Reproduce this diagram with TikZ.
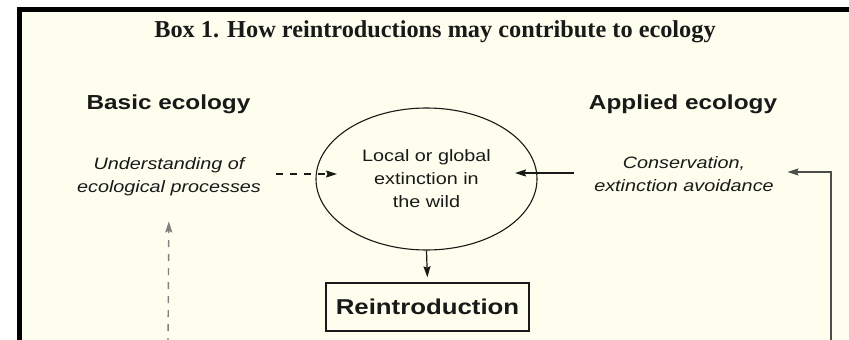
\documentclass[tikz,border=0pt]{standalone}
\usepackage{fontspec}
\setmainfont{Liberation Serif}
\newfontfamily\helv[FakeStretch=1.2]{Liberation Sans}
\usetikzlibrary{shapes.geometric,arrows.meta}

\definecolor{crema}{RGB}{254,254,238}
\definecolor{tinta}{RGB}{25,25,25}

\tikzset{
  flecha/.style={line width=1.2pt, draw=tinta, -{Stealth[length=11pt,width=7pt,inset=1.5pt]}},
  rayas/.style={dash pattern=on 7pt off 7pt},
  titulo/.style={font=\bfseries\fontsize{24.3}{28}\selectfont, text=tinta},
  encab/.style={font=\helv\bfseries\fontsize{20.3}{24}\selectfont, text=tinta},
  cursiva/.style={font=\helv\itshape\fontsize{16.5}{23}\selectfont, align=center, inner sep=0pt, text=tinta},
  elipse/.style={ellipse, draw=tinta, line width=1.1pt, minimum width=221pt, minimum height=142pt,
    inner sep=0pt, align=center, font=\helv\fontsize{16.5}{23}\selectfont, text=tinta},
  caja/.style={draw=tinta, line width=1.4pt, minimum width=203pt, minimum height=48pt,
    inner sep=0pt, font=\helv\bfseries\fontsize{21.5}{24}\selectfont, text=tinta}
}

\begin{document}
\begin{tikzpicture}[x=1pt,y=-1pt]
        % Marco y fondo
        \useasboundingbox (0,0) rectangle (849,340);
        \fill[white] (0,0) rectangle (849,340);
        \fill[crema] (19.5,9) rectangle (849,340);
        \draw[line width=5pt] (19.5,345) |- (855,9);

        % Título
        \node[titulo, anchor=base] (tit) at (435,37) {Box 1. How reintroductions may contribute to ecology};

        % Encabezados
        \node[encab, anchor=base] (basica) at (168.5,109) {Basic ecology};
        \node[encab, anchor=base] (aplicada) at (683,109) {Applied ecology};

        % Textos en cursiva
        \node[cursiva] (entend) at (169,177) {Understanding of\\ecological processes};
        \node[cursiva] (conserv) at (684,174) {Conservation,\\extinction avoidance};

        % Elipse central y caja
        \node[elipse] (extin) at (426.5,179) {Local or global\\extinction in\\the wild};
        \node[caja] (reint) at (427.5,307) {Reintroduction};

        % Puntos auxiliares
        \coordinate (puntaI) at (337,174);
        \coordinate (puntaD) at (515,173);
        \coordinate (pieI) at (168,345);
        \coordinate (pieD) at (831,345);

        % Flechas hacia la elipse
        \draw[flecha, rayas, shorten <=15pt] (entend.east |- puntaI) -- (puntaI);
        \draw[flecha] ([xshift=-20pt]conserv.west |- puntaD) -- (puntaD);

        % Flecha hacia la reintroducción
        \draw[flecha, shorten >=5pt] (extin.south) -- (reint.north);

        % Flechas de retorno
        \draw[flecha, line width=1.5pt, draw=black!70, shorten >=13.5pt] (pieD) |- ([yshift=2pt]conserv.east);
        \draw[flecha, line width=1.4pt, draw=black!50, rayas, shorten >=25pt] (pieI) -- (entend.south);
    \end{tikzpicture}
\end{document}
